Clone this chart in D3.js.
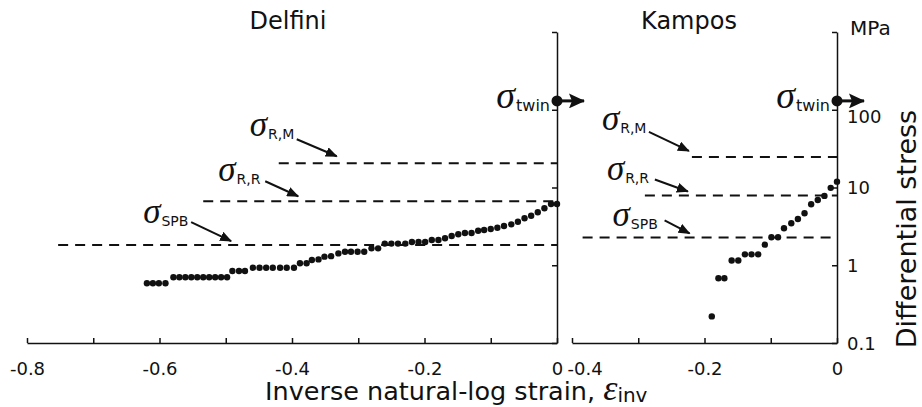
<!DOCTYPE html>
<html>
<head>
<meta charset="utf-8">
<script src="https://cdn.jsdelivr.net/npm/d3@7/dist/d3.min.js"></script>
<style>
  body { margin: 0; background: #fff; }
  svg { display: block; font-family: "DejaVu Sans", sans-serif; }
</style>
</head>
<body>
<div id="viz"></div>
<script>
(function() {

// ---- data ----
var delfiniStrain = [-0.619, -0.610, -0.601, -0.591, -0.579, -0.570, -0.561, -0.552, -0.543, -0.534,
  -0.525, -0.516, -0.507, -0.498, -0.490, -0.480, -0.471, -0.459, -0.449, -0.439,
  -0.429, -0.418, -0.408, -0.397, -0.388, -0.378, -0.370, -0.360, -0.351, -0.341,
  -0.330, -0.320, -0.311, -0.301, -0.291, -0.280, -0.270, -0.260, -0.250, -0.240,
  -0.229, -0.219, -0.209, -0.199, -0.189, -0.179, -0.169, -0.159, -0.149, -0.139,
  -0.129, -0.119, -0.110, -0.100, -0.090, -0.080, -0.069, -0.059, -0.049, -0.039,
  -0.029, -0.019, -0.009, 0.000];
var delfiniStress = [0.586, 0.586, 0.586, 0.586, 0.70, 0.70, 0.70, 0.70, 0.70, 0.70,
  0.70, 0.70, 0.70, 0.70, 0.843, 0.843, 0.843, 0.93, 0.93, 0.93,
  0.93, 0.93, 0.93, 0.93, 1.06, 1.06, 1.17, 1.19, 1.29, 1.31,
  1.42, 1.49, 1.49, 1.49, 1.49, 1.65, 1.65, 1.90, 1.90, 1.90,
  1.90, 1.99, 1.99, 1.99, 2.11, 2.11, 2.22, 2.38, 2.50, 2.60,
  2.60, 2.78, 2.84, 2.93, 3.04, 3.20, 3.36, 3.63, 4.02, 4.34,
  4.80, 5.40, 6.14, 6.14];

var kamposStrain = [-0.189, -0.179, -0.170, -0.159, -0.149, -0.139, -0.129, -0.119, -0.109, -0.099,
  -0.089, -0.080, -0.069, -0.059, -0.049, -0.039, -0.029, -0.019, -0.0095, 0.000];
var kamposStress = [0.22, 0.68, 0.68, 1.15, 1.15, 1.38, 1.38, 1.38, 1.84, 2.29,
  2.29, 2.99, 3.47, 3.94, 4.66, 6.08, 6.9, 7.8, 9.9, 11.9];

var limitNames = ["R,M", "R,R", "SPB"];
var delfiniLimits = [20.5, 6.65, 1.82];
var delfiniLimitFrom = [-0.420, -0.534, -0.753];
var kamposLimits = [24.7, 7.89, 2.28];
var kamposLimitFrom = [-0.219, -0.290, -0.384];
var twinStress = 130;

var leftStrainTicks = [-0.8, -0.7, -0.6, -0.5, -0.4, -0.3, -0.2, -0.1, 0];
var rightStrainTicks = [-0.4, -0.3, -0.2, -0.1, 0];
var stressTicks = [0.1, 1, 10, 100, 1000];
var stressLabels = ["0.1", "1", "10", "100", ""];

// label / arrow offsets from the start of each dashed line (px)
var delfiniNotes = [
  {lx: -29, ly: -27, ax: 18, ay: -24, bx: 58, by: -7},
  {lx: 15, ly: -20, ax: 62, ay: -20, bx: 95, by: -5},
  {lx: 85, ly: -22, ax: 133, ay: -23, bx: 173, by: -4}
];
var kamposNotes = [
  {lx: -90, ly: -27, ax: -43, ay: -25, bx: -3, by: -6},
  {lx: -38, ly: -16, ax: 10, ay: -16, bx: 43, by: -4},
  {lx: 30, ly: -11, ax: 82, ay: -17, bx: 107, by: -4}
];

var W = 922, H = 407;

var svg = d3.select("#viz").append("svg")
  .attr("width", W).attr("height", H);

svg.append("rect").attr("width", W).attr("height", H).attr("fill", "#fff");

var defs = svg.append("defs");
defs.append("marker")
  .attr("id", "head")
  .attr("viewBox", "0 0 12 10")
  .attr("refX", 11).attr("refY", 5)
  .attr("markerWidth", 12).attr("markerHeight", 10)
  .attr("markerUnits", "userSpaceOnUse")
  .attr("orient", "auto")
  .append("path").attr("d", "M0,0 L12,5 L0,10 Z").attr("fill", "#111");
defs.append("marker")
  .attr("id", "bighead")
  .attr("viewBox", "0 0 16 15")
  .attr("refX", 15).attr("refY", 7.5)
  .attr("markerWidth", 16).attr("markerHeight", 15)
  .attr("markerUnits", "userSpaceOnUse")
  .attr("orient", "auto")
  .append("path").attr("d", "M0,0 L16,7.5 L0,15 L3,7.5 Z").attr("fill", "#111");

var y = d3.scaleLog().domain([0.1, 1000]).range([343, 32]);
var xL = d3.scaleLinear().domain([-0.8, 0]).range([27, 557]);
var xR = d3.scaleLinear().domain([-0.4, 0]).range([572, 837]);

function fmt(d) {
  if (Math.abs(d) < 1e-9) return "0";
  return (Math.round(d * 10) % 2 === 0) ? d.toFixed(1) : "";
}

function styleAxis(g) {
  g.select(".domain").attr("stroke", "#111").attr("stroke-width", 1.5);
  g.selectAll(".tick line").attr("stroke", "#111").attr("stroke-width", 1.5);
  g.selectAll(".tick text").attr("fill", "#111")
    .style("font-size", "18px").style("font-family", "'DejaVu Sans', sans-serif");
}

// x axes
svg.append("g").attr("transform", "translate(0,343)")
  .call(d3.axisBottom(xL).tickValues(leftStrainTicks).tickFormat(fmt)
    .tickSizeInner(-5).tickSizeOuter(0).tickPadding(19))
  .call(styleAxis);
svg.append("g").attr("transform", "translate(0,343)")
  .call(d3.axisBottom(xR).tickValues(rightStrainTicks).tickFormat(fmt)
    .tickSizeInner(-5).tickSizeOuter(0).tickPadding(19))
  .call(styleAxis)
  .selectAll(".tick text")
  .filter(function(d) { return d === -0.4; })
  .attr("text-anchor", "start").attr("x", -5);

// y axes
svg.append("g").attr("transform", "translate(557,0)")
  .call(d3.axisLeft(y).tickValues(stressTicks).tickFormat("")
    .tickSizeInner(5).tickSizeOuter(0))
  .call(styleAxis);
svg.append("g").attr("transform", "translate(837,0)")
  .call(d3.axisRight(y).tickValues(stressTicks)
    .tickFormat(function(d, i) { return stressLabels[i]; })
    .tickSizeInner(-5).tickSizeOuter(0).tickPadding(10))
  .call(styleAxis)
  .selectAll(".tick text")
  .attr("dy", function(d) { return d === 100 ? "0.7em" : "0.35em"; });

function sigma(g, x, yb, sub, anchor, bigSize, subSize) {
  var t = g.append("text").attr("x", x).attr("y", yb)
    .attr("text-anchor", anchor || "start").attr("fill", "#111");
  t.append("tspan").text("\u03C3")
    .style("font-family", "'Liberation Serif', serif")
    .style("font-style", "italic")
    .style("font-size", (bigSize || 35) + "px");
  t.append("tspan").text(sub).attr("dx", 1).attr("dy", 3)
    .style("font-size", (subSize || 14) + "px");
  return t;
}

function panel(x, strain, stress, limits, from, notes) {
  var g = svg.append("g");

  // dashed limit lines
  g.selectAll("line.limit").data(limits).enter().append("line")
    .attr("class", "limit")
    .attr("x1", function(d, i) { return x(from[i]); })
    .attr("x2", x(0))
    .attr("y1", function(d) { return y(d); })
    .attr("y2", function(d) { return y(d); })
    .attr("stroke", "#111").attr("stroke-width", 2)
    .attr("stroke-dasharray", "10,7");

  // labels + arrows
  limits.forEach(function(v, i) {
    var x0 = x(from[i]), y0 = y(v), n = notes[i];
    sigma(g, x0 + n.lx, y0 + n.ly, limitNames[i]);
    g.append("line")
      .attr("x1", x0 + n.ax).attr("y1", y0 + n.ay)
      .attr("x2", x0 + n.bx).attr("y2", y0 + n.by)
      .attr("stroke", "#111").attr("stroke-width", 2)
      .attr("marker-end", "url(#head)");
  });

  // data points
  g.selectAll("circle.pt").data(strain).enter().append("circle")
    .attr("class", "pt")
    .attr("cx", function(d) { return x(d); })
    .attr("cy", function(d, i) { return y(stress[i]); })
    .attr("r", 3.2)
    .attr("fill", "#111");

  // twinning stress marker
  var tx = x(0), ty = y(twinStress);
  g.append("line")
    .attr("x1", tx).attr("y1", ty).attr("x2", tx + 27).attr("y2", ty)
    .attr("stroke", "#111").attr("stroke-width", 3)
    .attr("marker-end", "url(#bighead)");
  g.append("circle").attr("cx", tx).attr("cy", ty).attr("r", 5.5).attr("fill", "#111");
  sigma(g, tx - 7, ty + 7, "twin", "end", 38, 16);
}

panel(xL, delfiniStrain, delfiniStress, delfiniLimits, delfiniLimitFrom, delfiniNotes);
panel(xR, kamposStrain, kamposStress, kamposLimits, kamposLimitFrom, kamposNotes);

// titles
svg.append("text").attr("x", 288).attr("y", 29).attr("text-anchor", "middle")
  .style("font-size", "24px").attr("fill", "#111").text("Delfini");
svg.append("text").attr("x", 689).attr("y", 29).attr("text-anchor", "middle")
  .style("font-size", "24px").attr("fill", "#111").text("Kampos");
svg.append("text").attr("x", 850).attr("y", 35)
  .style("font-size", "20px").attr("fill", "#111").text("MPa");

// axis titles
var xt = svg.append("text").attr("x", 265).attr("y", 400).attr("fill", "#111")
  .style("font-size", "25.5px");
xt.append("tspan").text("Inverse natural-log strain, ");
xt.append("tspan").text("\u03B5")
  .style("font-family", "'Liberation Serif', serif").style("font-style", "italic")
  .style("font-size", "36px");
xt.append("tspan").text("inv").attr("dy", 2).style("font-size", "20px");

svg.append("text")
  .attr("transform", "translate(916,229) rotate(-90)")
  .attr("text-anchor", "middle").attr("fill", "#111")
  .style("font-size", "27px").text("Differential stress");

})();
</script>
</body>
</html>
